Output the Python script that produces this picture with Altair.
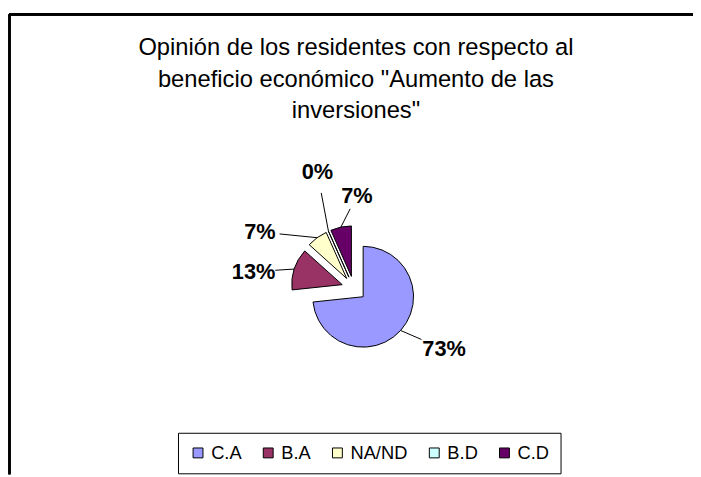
import altair as alt
import pandas as pd
import numpy as np

# ---- data ----
categories = ["C.A", "B.A", "NA/ND", "B.D", "C.D"]
counts = [11, 2, 1, 0, 1]
pct_labels = ["73%", "13%", "7%", "0%", "7%"]
colors = ["#9999FF", "#993366", "#FFFFCC", "#CCFFFF", "#660066"]
title_lines = [
    "Opinión de los residentes con respecto al",
    "beneficio económico \"Aumento de las",
    "inversiones\"",
]

# ---- layout (chart pixel coords) ----
W, H = 693, 469
CX, CY = 350, 281          # pie centre
R = 51                     # pie radius
EXPLODE = 12.5             # explosion distance
label_angle = [124, 279.5, 301, 342.5, 1.8]   # deg clockwise from 12 o'clock
label_radius = [110, 103, 111, 123, 94]
leader_gap = [25, 22, 20, 21, 15]

total = sum(counts)
cum = np.cumsum(counts)
mid = (cum - np.array(counts) / 2) / total * 2 * np.pi
ex = CX + EXPLODE * np.sin(mid)
ey = CY - EXPLODE * np.cos(mid)
sx = ex + R * np.sin(mid)
sy = ey - R * np.cos(mid)
la = np.radians(label_angle)
lx = CX + np.array(label_radius) * np.sin(la)
ly = CY - np.array(label_radius) * np.cos(la)
vx, vy = sx - lx, sy - ly
nrm = np.hypot(vx, vy)
gx = lx + np.array(leader_gap) * vx / nrm
gy = ly + np.array(leader_gap) * vy / nrm

df = pd.DataFrame({
    "idx": range(len(categories)),
    "cat": categories,
    "count": counts,
    "pct": pct_labels,
    "ex": ex, "ey": ey,
    "sx": sx, "sy": sy,
    "lx": lx, "ly": ly,
    "gx": gx, "gy": gy,
})

FONT = "Liberation Sans"

arcs = alt.Chart(df).mark_arc(radius=R, stroke="black", strokeWidth=1).encode(
    theta=alt.Theta("count:Q", stack=True),
    order=alt.Order("idx:Q"),
    color=alt.Color(
        "cat:N",
        sort=categories,
        scale=alt.Scale(domain=categories, range=colors),
        legend=alt.Legend(
            title=None,
            orient="none",
            direction="horizontal",
            legendX=172,
            legendY=427,
            padding=11,
            strokeColor="black",
            labelFont=FONT,
            labelFontSize=18.5,
            labelColor="black",
            symbolType="square",
            symbolSize=100,
            symbolStrokeColor="black",
            symbolStrokeWidth=1,
            columnPadding=17,
            labelOffset=4,
        ),
    ),
    x=alt.X("ex:Q", scale=None),
    y=alt.Y("ey:Q", scale=None),
)

leaders = alt.Chart(df).mark_rule(color="black", strokeWidth=1).encode(
    x=alt.X("sx:Q", scale=None),
    y=alt.Y("sy:Q", scale=None),
    x2="gx:Q",
    y2="gy:Q",
)

labels = alt.Chart(df).mark_text(
    font=FONT, fontSize=22, fontWeight="bold", color="black",
    align="center", baseline="middle",
).encode(
    x=alt.X("lx:Q", scale=None),
    y=alt.Y("ly:Q", scale=None),
    text="pct:N",
)

title_df = pd.DataFrame({"line": title_lines, "i": range(len(title_lines))})
title = alt.Chart(title_df).transform_calculate(
    ty="38 + 32 * datum.i"
).mark_text(
    font=FONT, fontSize=24, color="black", align="center", baseline="middle",
).encode(
    x=alt.value(CX + 2),
    y=alt.Y("ty:Q", scale=None),
    text="line:N",
)

frame_top = alt.Chart(df).mark_rule(color="black", strokeWidth=2.5).encode(
    x=alt.value(1.5), x2=alt.value(W), y=alt.value(3.5)
)
frame_left = alt.Chart(df).mark_rule(color="black", strokeWidth=2).encode(
    x=alt.value(1.5), y=alt.value(3.5), y2=alt.value(H)
)

chart = alt.layer(frame_top, frame_left, title, arcs, leaders, labels).properties(
    width=W, height=H,
    autosize=alt.AutoSizeParams(type="none"),
    padding=0,
).configure_view(stroke=None)

chart.save("out.html", embed_options={"renderer": "svg", "actions": False})
